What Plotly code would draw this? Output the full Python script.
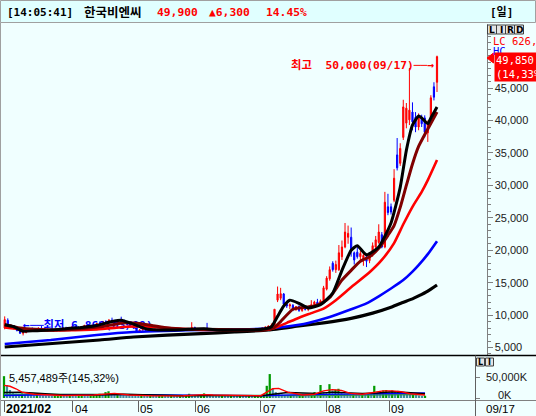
import plotly.graph_objects as go
import pandas as pd

# ---------------- data ----------------
holidays = ["2021-03-01", "2021-05-05", "2021-05-19", "2021-08-16"]
dates = [d for d in pd.bdate_range("2021-02-26", "2021-09-17")
         if d.strftime("%Y-%m-%d") not in holidays]

opens = [8000, 9200, 8000, 8300, 7900, 7600, 7200, 7300, 7600, 7900,
         7800, 7700, 8000, 7900, 7700, 7800, 7600, 7700, 7600, 7800,
         8000, 7900, 8000, 8200, 8100, 8000, 8200, 8400, 8300, 8200,
         8500, 8700, 8600, 9000, 8800, 9200, 9100, 8900, 9100, 9000,
         8700, 8500, 8300, 8000, 7500, 7700, 7800, 7700, 7600, 7700,
         7800, 7700, 7600, 7500, 7600, 7700, 7800, 7900, 7800, 7700,
         7800, 7900, 8100, 7900, 7800, 7700, 8000, 7800, 7700, 7800,
         7700, 7600, 7700, 7700, 7800, 7700, 7600, 7650, 7700, 7750,
         7700, 7650, 7700, 7800, 7800, 8000, 8100, 8300, 8400, 12300,
         12600, 13250, 11700, 11400, 11500, 10800, 11300, 10700, 11000, 10900,
         11200, 11600, 12000, 11700, 12100, 14000, 15600, 18000, 17000, 17000,
         19000, 20500, 22000, 22000, 19600, 19700, 19000, 18600, 19000, 18400,
         19300, 20500, 21200, 22400, 20500, 26700, 26700, 27700, 34700, 33400,
         37400, 39600, 40100, 41300, 40500, 39000, 40400, 40400, 38100, 40400,
         45200, 45900]
highs = [9800, 9500, 8600, 8400, 8000, 7700, 7400, 7700, 8000, 8100,
         8000, 8100, 8300, 8000, 7900, 7900, 7800, 7900, 7900, 8100,
         8200, 8100, 8300, 8400, 8300, 8300, 8500, 8600, 8500, 8600,
         8800, 9000, 9100, 9200, 9400, 9600, 9300, 9200, 9750, 9300,
         8900, 8700, 8400, 8100, 7800, 7900, 7900, 7800, 7800, 7900,
         7900, 7800, 7700, 7700, 7800, 7900, 8000, 8000, 7900, 7900,
         8000, 8900, 8200, 8000, 7900, 7900, 8800, 8000, 7900, 7900,
         7800, 7800, 7800, 7900, 7900, 7800, 7700, 7800, 7800, 7900,
         7800, 7750, 7850, 7900, 8100, 8300, 8400, 8700, 10900, 14400,
         14200, 13400, 12000, 11800, 11700, 11400, 11500, 11200, 11300, 11400,
         12300, 12200, 12500, 12400, 14500, 16000, 17500, 18300, 18400, 20800,
         21500, 24200, 23800, 23500, 19800, 20500, 19900, 19600, 19500, 19700,
         21200, 22200, 24000, 22800, 29000, 28700, 27200, 32500, 37300, 36500,
         43200, 42700, 48100, 42800, 41300, 41100, 40900, 40800, 40000, 43900,
         45900, 50000]
lows = [7800, 7900, 7900, 7800, 7500, 7100, 6860, 7200, 7500, 7700,
        7600, 7600, 7800, 7600, 7500, 7500, 7400, 7500, 7500, 7700,
        7800, 7700, 7900, 8000, 7900, 7900, 8100, 8200, 8100, 8100,
        8400, 8500, 8500, 8700, 8700, 8900, 8800, 8700, 8900, 8600,
        8400, 8200, 7900, 7400, 7400, 7600, 7600, 7500, 7500, 7600,
        7600, 7500, 7400, 7400, 7500, 7600, 7700, 7700, 7600, 7600,
        7700, 7800, 7800, 7700, 7600, 7600, 7700, 7600, 7600, 7600,
        7500, 7500, 7600, 7600, 7600, 7500, 7500, 7550, 7600, 7650,
        7600, 7550, 7600, 7650, 7700, 7900, 8000, 8200, 8300, 12000,
        12300, 11500, 11100, 10900, 10600, 10700, 10500, 10500, 10700, 10600,
        11000, 11300, 11500, 11500, 12000, 13800, 15300, 16700, 16500, 16800,
        18500, 20300, 21000, 19000, 17800, 18700, 18500, 17600, 17400, 18000,
        19000, 20200, 21000, 20300, 20300, 25400, 25500, 27400, 32300, 33000,
        37000, 38800, 39300, 38500, 38200, 38500, 39000, 37400, 36700, 40100,
        43100, 44400]
closes = [9300, 8100, 8400, 7900, 7600, 7200, 7300, 7600, 7900, 7800,
          7700, 8000, 7900, 7700, 7800, 7600, 7700, 7600, 7800, 8000,
          7900, 8000, 8200, 8100, 8000, 8200, 8400, 8300, 8200, 8500,
          8700, 8600, 9000, 8800, 9200, 9100, 8900, 9100, 9000, 8700,
          8500, 8300, 8000, 7500, 7700, 7800, 7700, 7600, 7700, 7800,
          7700, 7600, 7500, 7600, 7700, 7800, 7900, 7800, 7700, 7800,
          7900, 8100, 7900, 7800, 7700, 7800, 7800, 7700, 7800, 7700,
          7600, 7700, 7700, 7800, 7700, 7600, 7650, 7700, 7750, 7700,
          7650, 7700, 7800, 7700, 8000, 8100, 8300, 8400, 10900, 13250,
          13300, 11700, 11400, 11600, 10800, 11300, 10700, 11000, 10900, 11200,
          11600, 12000, 11700, 12200, 14200, 15700, 17000, 17000, 17800, 19600,
          20500, 22800, 22600, 20000, 18500, 19000, 19500, 19200, 18300, 19400,
          20700, 21600, 22800, 20500, 27400, 25800, 25900, 31100, 32700, 35700,
          42100, 41900, 41600, 39800, 39000, 40500, 39500, 38200, 39600, 43500,
          43600, 49850]

volumes_k = [52000, 31000, 19000, 12000, 10000, 8000, 11000, 9000, 7000, 7000,
             6000, 7000, 6000, 5500, 5500, 5500, 5000, 5500, 6000, 6500,
             5500, 5500, 6000, 5500, 5000, 5500, 6000, 5500, 5500, 6000,
             7000, 8000, 10000, 9000, 14000, 16000, 11000, 8000, 10000, 7000,
             6500, 6000, 6000, 5500, 5500, 5000, 5500, 5000, 5000, 5500,
             5000, 4800, 5000, 5200, 5000, 4800, 5000, 5000, 4800, 5500,
             5000, 6000, 10000, 6000, 5000, 5000, 5500, 11000, 7000, 6000,
             5500, 5000, 4800, 5000, 4800, 4500, 4800, 4600, 4500, 4800,
             4600, 4500, 4700, 4600, 5000, 5500, 6000, 9000, 29000, 57000,
             22000, 14000, 10000, 8000, 7000, 6500, 7000, 6000, 5500, 6000,
             7000, 6500, 6000, 6500, 14000, 12000, 31000, 15000, 12000, 33000,
             18000, 20000, 22000, 14000, 10000, 9000, 8000, 8500, 7500, 7000,
             9000, 8000, 11000, 10000, 29000, 15000, 12000, 18000, 19000, 16000,
             18000, 14000, 17000, 12000, 10000, 9000, 8000, 8500, 7000, 6000,
             3760, 5457]

# moving averages (sample index, value)
ma5_idx = [0, 3, 6, 10, 15, 20, 25, 30, 35, 38, 42, 46, 50, 55, 60, 65, 70, 75, 80, 85,
           87, 89, 91, 93, 96, 99, 103, 107, 110, 113, 115, 118, 122, 126, 129, 131, 133,
           135, 136, 138, 139, 141]
ma5_val = [8500, 8200, 7500, 7600, 7700, 7900, 8100, 8400, 9000, 9200, 8600, 7900, 7700,
           7700, 7800, 7900, 7700, 7700, 7700, 7900, 8200, 9800, 11400, 12300, 11800, 11100,
           11600, 13400, 16900, 20000, 20700, 19300, 20500, 24200, 29700, 35400, 39300,
           40700, 40400, 39500, 40400, 42100]
ma10_idx = [0, 5, 10, 18, 25, 31, 36, 40, 44, 48, 52, 57, 65, 75, 86, 88, 90, 94, 98, 101,
            104, 106, 110, 113, 116, 119, 122, 125, 127, 129, 131, 133, 135, 138, 141]
ma10_val = [8500, 8000, 7800, 7700, 7900, 8200, 8600, 8800, 8700, 8400, 8100, 7900, 7800,
            7750, 7800, 8100, 9000, 10900, 11200, 11400, 12000, 12700, 15400, 16900, 18300,
            19000, 20300, 22300, 23800, 26600, 30000, 33300, 36000, 38700, 41300]
ma20_idx = [0, 10, 20, 30, 40, 45, 50, 60, 70, 80, 86, 88, 92, 96, 100, 104, 108, 113, 119,
            123, 127, 130, 133, 136, 138, 141]
ma20_val = [8100, 7650, 7650, 7800, 8200, 8300, 8100, 7800, 7700, 7700, 7750, 8000, 8800,
            9600, 10300, 11000, 12300, 14300, 16600, 18500, 21100, 24000, 26700, 29000,
            30800, 33900]
ma60_idx = [0, 15, 30, 42, 64, 86, 96, 99, 106, 113, 118, 122, 126, 130, 133, 135, 138, 141]
ma60_val = [5540, 6150, 6930, 7390, 7700, 7930, 8500, 8780, 9700, 10900, 11800, 12900,
            14100, 15400, 16700, 17700, 19400, 21400]
ma120_idx = [0, 31, 42, 64, 75, 86, 96, 104, 113, 120, 126, 129, 133, 135, 138, 141]
ma120_val = [5080, 6160, 6620, 7150, 7390, 7700, 8310, 8800, 9500, 10300, 11200, 11800,
             12500, 12950, 13700, 14640]

vma5_idx = [0, 2, 4, 6, 10, 20, 30, 34, 37, 42, 50, 60, 63, 67, 70, 80, 86, 88, 90, 92,
            95, 100, 104, 107, 110, 113, 116, 120, 124, 127, 130, 133, 136, 141]
vma5_val = [30000, 28000, 22000, 14000, 9000, 6000, 7000, 10000, 11000, 7000, 5000, 5500,
            7000, 8000, 7000, 5000, 5500, 14000, 22000, 23000, 14000, 7000, 9000, 17000,
            20000, 18000, 11000, 9000, 14000, 17000, 17000, 15000, 10000, 7000]
vma20_idx = [0, 5, 10, 15, 20, 30, 40, 50, 60, 70, 80, 86, 90, 95, 100, 105, 110, 115, 120,
             125, 130, 135, 141]
vma20_val = [13000, 14000, 12000, 9000, 7000, 7000, 9000, 7000, 5500, 6000, 5000, 5000,
             9000, 13000, 12000, 11000, 14000, 13000, 11000, 12000, 15000, 13000, 10000]
vma60_idx = [0, 20, 40, 60, 86, 100, 115, 130, 141]
vma60_val = [6000, 8000, 8000, 6500, 5500, 8000, 10000, 12000, 12000]
vma120_idx = [0, 20, 40, 60, 86, 100, 120, 141]
vma120_val = [9000, 9000, 8500, 6000, 5000, 6000, 7000, 8000]

price_ticks = [5000, 10000, 15000, 20000, 25000, 30000, 35000, 40000, 45000]
month_labels = ["2021/02", "04", "05", "06", "07", "08", "09"]
header_time = "[14:05:41]"
header_name = "한국비엔씨"
header_price = 49900
header_change = 6300
header_pct = "14.45%"
today_volume_text = "5,457,489주(145,32%)"
lc_text = "LC 626,000"

# ---------------- layout geometry ----------------
W, H = 536, 416
MAIN_TOP, MAIN_BOT = 23.5, 355.5
VOL_TOP, VOL_BOT = 357.0, 400.0
MAIN_RIGHT, VOL_RIGHT = 486.5, 475.0
P_REF, Y_REF, P_PER_PX = 5000, 347.5, 154.2
V_ZERO_Y, V_PER_PX = 398.0, 50e6 / 21.0
MX0, MDX = 4.7, 3.066
VX0, VDX = 4.0, 2.986
BG = "#F0FFFF"
MONO = "DejaVu Sans Mono, Noto Sans CJK KR"
SANS = "Liberation Sans, Noto Sans CJK KR"


def price_at(y):
    return P_REF + (Y_REF - y) * P_PER_PX


def vol_at(y):
    return (V_ZERO_Y - y) * V_PER_PX


def fx(p):
    return p / W


def fy(p):
    return 1 - p / H


n = len(closes)
idx = list(range(n))
month_idx = []
seen = set()
for i, d in enumerate(dates):
    key = (d.year, d.month)
    if key not in seen:
        seen.add(key)
        month_idx.append(i)
month_idx = [month_idx[0]] + month_idx[2:]  # first label is the start; 03 not labelled

fig = go.Figure()

# low label under the lines
low_i = lows.index(min(lows))
fig.add_trace(go.Scatter(
    x=[low_i], y=[min(lows) + 9 * P_PER_PX], mode="text",
    text=[f"←──최저 {min(lows):,}({dates[low_i]:%m/%d})"],
    textposition="middle right",
    textfont=dict(family=MONO, size=11.3, color="#0000FF", weight="bold"),
    hoverinfo="skip", xaxis="x", yaxis="y"))

fig.add_trace(go.Candlestick(
    x=idx, open=opens, high=highs, low=lows, close=closes,
    increasing=dict(line=dict(color="#FF0000", width=1), fillcolor="#FF0000"),
    decreasing=dict(line=dict(color="#0000FF", width=1), fillcolor="#0000FF"),
    whiskerwidth=0, hoverinfo="skip", xaxis="x", yaxis="y"))

for ix, vals, col, wd in [(ma120_idx, ma120_val, "#000000", 3.2),
                          (ma60_idx, ma60_val, "#0000FF", 2.6),
                          (ma20_idx, ma20_val, "#FF0000", 2.6),
                          (ma10_idx, ma10_val, "#800000", 3.0),
                          (ma5_idx, ma5_val, "#000000", 3.0)]:
    fig.add_trace(go.Scatter(x=ix, y=vals, mode="lines",
                             line=dict(color=col, width=wd, shape="spline", smoothing=0.5),
                             hoverinfo="skip", xaxis="x", yaxis="y"))

vol_colors = ["#009A00" if (i == 0 or volumes_k[i] > volumes_k[i - 1]) else "#3F8F9F"
              for i in idx]
fig.add_trace(go.Bar(x=idx, y=[v * 1000 for v in volumes_k], marker_color=vol_colors,
                     marker_line_width=0, hoverinfo="skip", xaxis="x2", yaxis="y2"))
for ix, vals, col in [(vma120_idx, vma120_val, "#2E8B57"),
                      (vma60_idx, vma60_val, "#0000FF"),
                      (vma20_idx, vma20_val, "#000000"),
                      (vma5_idx, vma5_val, "#FF0000")]:
    fig.add_trace(go.Scatter(x=ix, y=[v * 1000 for v in vals], mode="lines",
                             line=dict(color=col, width=1.4),
                             hoverinfo="skip", xaxis="x2", yaxis="y2"))

fig.update_layout(
    width=W, height=H, margin=dict(l=0, r=0, t=0, b=0),
    paper_bgcolor=BG, plot_bgcolor=BG, showlegend=False, hovermode=False,
    bargap=0.25, boxgap=0.45,
    xaxis=dict(domain=[0, fx(MAIN_RIGHT)], range=[-MX0 / MDX, (MAIN_RIGHT - MX0) / MDX],
               showticklabels=False, showgrid=False, zeroline=False, anchor="y",
               rangeslider=dict(visible=False), fixedrange=True),
    yaxis=dict(domain=[fy(MAIN_BOT), fy(MAIN_TOP)],
               range=[price_at(MAIN_BOT), price_at(MAIN_TOP)],
               side="right", anchor="x", showline=True, linecolor="#808080", linewidth=1,
               ticks="outside", ticklen=5, tickcolor="#808080",
               tickvals=price_ticks, ticktext=[f"{v:,}" for v in price_ticks],
               tickfont=dict(family="Liberation Sans", size=11, color="#202020"),
               showgrid=False, zeroline=False,
               minor=dict(tickmode="linear", tick0=0, dtick=1000, ticks="outside",
                          ticklen=3, tickcolor="#808080", showgrid=False)),
    xaxis2=dict(domain=[0, fx(VOL_RIGHT)], range=[-VX0 / VDX, (VOL_RIGHT - VX0) / VDX],
                anchor="y2", showticklabels=False, ticks="outside", ticklen=11,
                tickcolor="#606060", tickvals=month_idx, showgrid=False, zeroline=False),
    yaxis2=dict(domain=[fy(VOL_BOT), fy(VOL_TOP)], range=[vol_at(VOL_BOT), vol_at(VOL_TOP)],
                side="right", anchor="x2", showline=True, linecolor="#808080",
                ticks="outside", ticklen=4, tickcolor="#808080", tickvals=[0, 50e6],
                showticklabels=False, showgrid=False, zeroline=False),
)

shapes = []


def line(x0, y0, x1, y1, color, width=1):
    shapes.append(dict(type="line", xref="paper", yref="paper", x0=fx(x0), y0=fy(y0),
                       x1=fx(x1), y1=fy(y1), line=dict(color=color, width=width)))


def rect(x0, y0, x1, y1, fill, border, width=1):
    shapes.append(dict(type="rect", xref="paper", yref="paper", x0=fx(x0), y0=fy(y0),
                       x1=fx(x1), y1=fy(y1), fillcolor=fill,
                       line=dict(color=border, width=width)))


rect(0.5, 0.5, 535.5, 22.5, "#E0FFFF", "#A0A0A0")
line(0, 355.5, 536, 355.5, "#000000", 1.5)
line(0, 400.5, 536, 400.5, "#808080", 1)
line(475.5, 355.5, 475.5, 416, "#606060", 1)
line(0.5, 22.5, 0.5, 416, "#A0A0A0", 1)
# price marker triangle
shapes.append(dict(type="path", xref="paper", yref="paper",
                   path=f"M {fx(487)},{fy(58)} L {fx(493.5)},{fy(53)} L {fx(493.5)},{fy(63)} Z",
                   fillcolor="#FF0000", line=dict(color="#FF0000", width=1)))
# L I R D buttons
btn_x = [487.5, 496.5, 505.5, 514.5]
for bx in btn_x:
    rect(bx, 25, bx + 9, 34, "#E4E4E4", "#404040")
for bx in [476.5, 485.5]:
    rect(bx, 358, bx + 8, 366, "#E4E4E4", "#404040")

annotations = []


def ann(text, x, y, size=11, color="#000000", family=MONO, xanchor="left", bold=False,
        **kw):
    t = f"<b>{text}</b>" if bold else text
    annotations.append(dict(text=t, x=fx(x), y=fy(y), xref="paper", yref="paper",
                            xanchor=xanchor, yanchor="middle", showarrow=False,
                            font=dict(family=family, size=size, color=color), **kw))


# header
ann(header_time, 5, 12, size=11, bold=True)
ann(header_name, 82, 12, size=12.5, bold=True)
ann(f"{header_price:,}", 155, 12, size=11.3, color="#FF0000", bold=True)
ann(f"▲{header_change:,}", 207, 12, size=11.3, color="#FF0000", bold=True)
ann(header_pct, 264, 12, size=11.3, color="#FF0000", bold=True)
ann("[일]", 488, 12, size=11, bold=True)

# right side texts
ann(lc_text, 491, 41, size=10.5, color="#FF0000", family="DejaVu Sans Mono")
ann("HC", 491, 51, size=10.5, color="#0000FF", family="DejaVu Sans Mono")
pct = (closes[-1] / closes[-2] - 1) * 100
annotations.append(dict(
    text=f"{closes[-1]:,}<br>({pct:.2f}%)".replace(".", ","),
    x=fx(493.5), y=fy(52), xref="paper", yref="paper", xanchor="left", yanchor="top",
    showarrow=False, align="left", bgcolor="#FF0000", borderpad=1,
    font=dict(family="DejaVu Sans Mono", size=10.5, color="#FFFFFF")))
for bx, ch in zip(btn_x, "LIRD"):
    ann(ch, bx + 4.5, 29.5, size=9, family="DejaVu Sans", xanchor="center", bold=True)
for bx, ch in zip([476.5, 485.5], "LI"):
    ann(ch, bx + 4, 362, size=8, family="DejaVu Sans", xanchor="center", bold=True)

# high label
hi_i = highs.index(max(highs))
annotations.append(dict(
    text=f"<b>최고  {max(highs):,}({dates[hi_i]:%m/%d})──→</b>",
    x=hi_i, y=max(highs), xref="x", yref="y", xanchor="right", yanchor="middle",
    xshift=-1, yshift=-9, showarrow=False,
    font=dict(family=MONO, size=11.3, color="#FF0000")))

# volume texts
ann(today_volume_text, 7, 378, size=11, family=SANS)
ann("50,000K", 484, 377, size=11, family="Liberation Sans", color="#202020")
ann("0K", 496, 395, size=11, family="Liberation Sans", color="#202020")

# date labels
for k, (mi, lab) in enumerate(zip(month_idx, month_labels)):
    annotations.append(dict(
        text=f"<b>{lab}</b>" if k == 0 else lab, x=mi, y=fy(408.5), xref="x2",
        yref="paper", xanchor="left", yanchor="middle", xshift=0, showarrow=False,
        font=dict(family="Liberation Sans", size=12.5 if k == 0 else 11.5,
                  color="#000000")))
ann(f"{dates[-1]:%m/%d}", 484, 408.5, size=11.5, family="Liberation Sans")

fig.update_layout(shapes=shapes, annotations=annotations)
fig.write_html("out.html", config={"displayModeBar": False},
               post_script="document.body.style.margin='0';document.body.style.padding='0';")
